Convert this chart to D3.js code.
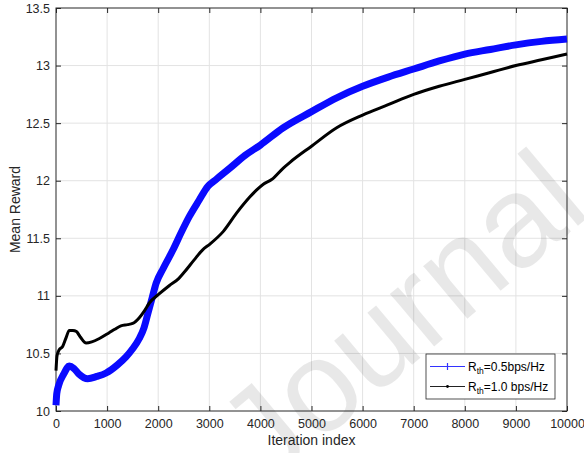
<!DOCTYPE html>
<html>
<head>
<meta charset="utf-8">
<script src="https://cdn.jsdelivr.net/npm/d3@7"></script>
<style>
  body { margin: 0; background: #fff; }
  text { font-family: "Liberation Sans", Arial, sans-serif; }
</style>
</head>
<body>
<div id="chart"></div>
<script>
// Mean reward vs iteration index (two rate thresholds)

// Pt. 0 - DATA

const xTicks = [0, 1000, 2000, 3000, 4000, 5000, 6000, 7000, 8000, 9000, 10000];
const yTicks = [10, 10.5, 11, 11.5, 12, 12.5, 13, 13.5];

// R_th = 0.5 bps/Hz (blue, + markers)
const iterA = [0, 15, 50, 150, 260, 350, 450, 620, 800, 980, 1200, 1370, 1500, 1630, 1720,
    1800, 1880, 1960, 2100, 2290, 2450, 2610, 2800, 2970, 3130, 3405, 3700, 4000, 4448,
    5000, 5493, 6000, 6500, 7000, 7500, 8000, 8500, 9000, 9500, 10000];
const rewardA = [10.05, 10.15, 10.22, 10.32, 10.39, 10.37, 10.32, 10.28, 10.30, 10.33, 10.40,
    10.47, 10.54, 10.63, 10.72, 10.85, 10.98, 11.11, 11.24, 11.40, 11.55, 11.69, 11.83, 11.95,
    12.01, 12.11, 12.22, 12.31, 12.46, 12.60, 12.72, 12.82, 12.90, 12.97, 13.04, 13.10, 13.14,
    13.18, 13.21, 13.23];

// R_th = 1.0 bps/Hz (black, . markers)
const iterB = [0, 20, 60, 130, 200, 260, 330, 400, 480, 590, 700, 850, 1040, 1150, 1270, 1400,
    1500, 1630, 1730, 1830, 2000, 2220, 2400, 2500, 2700, 2870, 3013, 3275, 3536, 3796, 3927,
    4057, 4220, 4448, 4579, 5000, 5493, 6000, 6500, 7000, 7500, 8000, 8500, 9000, 9500, 10000];
const rewardB = [10.35, 10.48, 10.53, 10.56, 10.64, 10.70, 10.70, 10.69, 10.64, 10.59, 10.60,
    10.63, 10.68, 10.71, 10.74, 10.75, 10.76, 10.81, 10.87, 10.94, 11.01, 11.09, 11.15, 11.20,
    11.31, 11.40, 11.45, 11.56, 11.72, 11.86, 11.92, 11.97, 12.01, 12.11, 12.16, 12.30, 12.46,
    12.57, 12.66, 12.75, 12.82, 12.88, 12.94, 13.00, 13.05, 13.10];

const seriesA = iterA.map((d, i) => ({ x: d, y: rewardA[i] }));
const seriesB = iterB.map((d, i) => ({ x: d, y: rewardB[i] }));

// Pt. 1 - SETUP

const width = 584,
      height = 453,
      margin = ({ top: 8, right: 17, bottom: 42, left: 56 });

const axisColor = "#262626";

let svg = d3.select("#chart")
    .append("svg")
    .attr("width", width)
    .attr("height", height);

let x = d3.scaleLinear()
    .domain([0, 10000])
    .range([margin.left, width - margin.right]);

let y = d3.scaleLinear()
    .domain([10, 13.5])
    .range([height - margin.bottom, margin.top]);

// Pt. 2 - GRID

svg.append("g")
    .selectAll("line")
    .data(xTicks.slice(1, -1))
    .join("line")
    .attr("x1", d => x(d)).attr("x2", d => x(d))
    .attr("y1", y(10)).attr("y2", y(13.5))
    .attr("stroke", "#e3e3e3");

svg.append("g")
    .selectAll("line")
    .data(yTicks.slice(1, -1))
    .join("line")
    .attr("x1", x(0)).attr("x2", x(10000))
    .attr("y1", d => y(d)).attr("y2", d => y(d))
    .attr("stroke", "#e3e3e3");

// Pt. 3 - WATERMARK

svg.append("text")
    .attr("transform", "translate(430, 350) rotate(-40)")
    .attr("text-anchor", "middle")
    .attr("font-size", 130)
    .attr("fill", "#000")
    .attr("fill-opacity", 0.09)
    .text("Journal");

// Pt. 4 - AXES (matlab style, ticks inside, box on)

const tickLen = 5;

svg.append("g")
    .attr("transform", `translate(0, ${y(10)})`)
    .call(d3.axisBottom(x).tickValues(xTicks).tickSize(-tickLen).tickPadding(8.5).tickFormat(d3.format("d")))
    .call(g => g.select(".domain").remove());

svg.append("g")
    .attr("transform", `translate(0, ${y(13.5)})`)
    .call(d3.axisTop(x).tickValues(xTicks).tickSize(-tickLen).tickFormat(""))
    .call(g => g.select(".domain").remove());

svg.append("g")
    .attr("transform", `translate(${x(0)}, 0)`)
    .call(d3.axisLeft(y).tickValues(yTicks).tickSize(-tickLen).tickPadding(6).tickFormat(d3.format("")))
    .call(g => g.select(".domain").remove());

svg.append("g")
    .attr("transform", `translate(${x(10000)}, 0)`)
    .call(d3.axisRight(y).tickValues(yTicks).tickSize(-tickLen).tickFormat(""))
    .call(g => g.select(".domain").remove());

svg.selectAll(".tick line").attr("stroke", axisColor);
svg.selectAll(".tick text")
    .attr("fill", axisColor)
    .attr("font-size", 12.5)
    .style("font-family", "'Liberation Sans', Arial, sans-serif");

svg.append("rect")
    .attr("x", x(0))
    .attr("y", y(13.5))
    .attr("width", x(10000) - x(0))
    .attr("height", y(10) - y(13.5))
    .attr("fill", "none")
    .attr("stroke", axisColor)
    .attr("stroke-width", 1);

// axis titles
svg.append("text")
    .attr("x", (x(0) + x(10000)) / 2)
    .attr("y", 445)
    .attr("text-anchor", "middle")
    .attr("font-size", 14)
    .attr("fill", axisColor)
    .text("Iteration index");

svg.append("text")
    .attr("transform", `translate(20, ${(y(10) + y(13.5)) / 2}) rotate(-90)`)
    .attr("text-anchor", "middle")
    .attr("font-size", 14)
    .attr("fill", axisColor)
    .text("Mean Reward");

// Pt. 5 - LINES

let line = d3.line()
    .x(d => x(d.x))
    .y(d => y(d.y))
    .curve(d3.curveMonotoneX);

svg.append("path")
    .datum(seriesA)
    .attr("fill", "none")
    .attr("stroke", "#0a0aff")
    .attr("stroke-width", 7)
    .attr("stroke-linejoin", "round")
    .attr("d", line);

svg.append("path")
    .datum(seriesB)
    .attr("fill", "none")
    .attr("stroke", "#000")
    .attr("stroke-width", 3)
    .attr("stroke-linejoin", "round")
    .attr("d", line);

// Pt. 6 - LEGEND

let legend = svg.append("g")
    .attr("transform", "translate(426, 354)");

legend.append("rect")
    .attr("width", 129)
    .attr("height", 45)
    .attr("fill", "#fff")
    .attr("stroke", axisColor)
    .attr("stroke-width", 0.8);

const legendItems = [
    { color: "#3333ff", th: "=0.5bps/Hz", marker: "+" },
    { color: "#222", th: "=1.0 bps/Hz", marker: "." }
];

let item = legend.selectAll(".item")
    .data(legendItems)
    .join("g")
    .attr("class", "item")
    .attr("transform", (d, i) => `translate(0, ${12.5 + i * 20})`);

item.append("line")
    .attr("x1", 4).attr("x2", 39)
    .attr("stroke", d => d.color)
    .attr("stroke-width", 1.2);

item.filter(d => d.marker === "+")
    .append("path")
    .attr("d", "M21.5,-3.5V3.5M18,0H25")
    .attr("stroke", d => d.color)
    .attr("stroke-width", 1.2);

item.filter(d => d.marker === ".")
    .append("circle")
    .attr("cx", 21.5)
    .attr("r", 1.4)
    .attr("fill", "#000");

let label = item.append("text")
    .attr("x", 42)
    .attr("y", 4)
    .attr("font-size", 12)
    .attr("fill", "#000");

label.append("tspan").text("R");
label.append("tspan").attr("font-size", 8.5).attr("dy", 3).text("th");
label.append("tspan").attr("dy", -3).text(d => d.th);
</script>
</body>
</html>
